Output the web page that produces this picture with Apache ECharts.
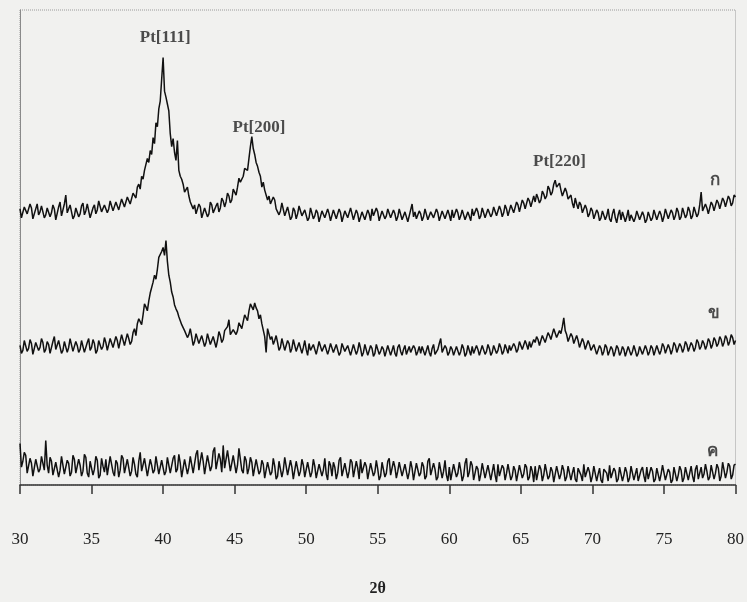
<!DOCTYPE html>
<html>
<head>
<meta charset="utf-8">
<script src="https://cdn.jsdelivr.net/npm/echarts@6/dist/echarts.min.js"></script>
<style>
html,body{margin:0;padding:0;background:#f1f1ef;}
#chart{width:747px;height:602px;}
</style>
</head>
<body>
<div id="chart"></div>
<script>
// 2θ sampling grid of the scanned patterns
const twoThetaStart = 30;
const twoThetaStep = 0.1;
const xTicks = [30, 35, 40, 45, 50, 55, 60, 65, 70, 75, 80];

// Trace ก (top) – intensity (a.u.), 30.0 … 80.0 in 0.1° steps
const traceKo = [
279,270,272,281,283,274,275,284,280,269,271,279,284,273,276,282,281,270,273,280,
282,271,275,283,279,268,270,281,286,272,274,284,293,275,276,283,281,269,272,280,
280,271,274,282,285,273,277,284,282,270,271,280,283,274,278,287,286,276,275,283,
284,275,279,287,288,277,276,286,285,278,280,289,290,281,283,291,292,284,286,295,
296,290,301,304,299,312,309,318,316,330,326,338,334,351,345,366,362,380,388,410,
432,398,392,385,378,355,342,350,336,328,348,318,312,309,304,296,298,301,292,286,
288,279,283,274,276,284,281,270,272,280,279,271,274,286,283,275,277,282,285,276,
280,290,287,281,286,295,292,285,288,299,297,293,301,310,306,304,312,320,322,318,
330,342,352,340,334,326,322,316,312,301,306,298,296,288,292,284,282,291,288,279,
280,273,277,285,284,272,273,281,279,268,271,280,277,269,274,282,281,272,270,278,
276,267,270,280,279,269,272,278,275,266,268,277,277,270,271,279,274,267,269,278,
278,269,271,279,275,266,267,277,276,270,272,280,279,268,270,278,274,266,268,276,
277,268,270,278,274,267,279,272,271,280,276,267,268,277,275,269,272,279,278,270,
269,278,274,267,271,279,277,268,268,276,275,266,272,278,284,271,276,269,268,277,
274,267,271,279,277,268,269,276,275,270,272,279,275,267,268,277,276,269,271,278,
273,267,278,270,270,279,275,268,272,278,277,268,269,276,274,267,279,272,271,280,
276,269,272,280,278,270,270,279,277,271,274,281,280,272,273,282,278,271,275,283,
279,272,274,283,281,275,277,286,283,276,278,288,285,279,280,290,287,281,283,292,
286,294,290,285,288,297,294,289,292,302,299,293,296,304,308,301,300,305,298,292,
294,300,296,289,288,293,285,280,290,284,279,286,283,275,276,283,279,271,274,280,
277,269,271,278,275,267,270,277,276,268,272,279,269,266,274,279,270,265,273,278,
268,276,274,266,271,278,267,273,273,266,270,277,275,268,269,276,272,265,268,276,
274,267,270,278,276,268,269,277,273,266,271,279,277,269,270,278,275,268,272,280,
276,268,271,280,278,270,273,281,277,269,272,281,279,271,274,283,296,277,276,284,
280,274,276,286,283,277,278,288,285,279,280,290,287,281,283,292,289,282,285,293,291
];

// Trace ข (middle)
const traceKho = [
141,133,136,146,145,135,138,147,143,132,134,144,146,136,139,148,144,134,137,145,
142,133,135,145,150,137,138,146,144,133,136,145,143,134,139,148,147,135,136,145,
141,134,137,146,145,134,135,144,148,136,139,147,143,133,136,146,146,137,140,149,
144,136,138,148,149,139,141,150,146,138,140,152,151,141,143,153,148,142,145,154,
158,151,163,168,170,162,172,183,180,176,186,194,196,205,212,208,218,230,228,236,
240,232,247,226,212,205,195,190,182,178,175,170,166,162,160,156,156,149,152,158,
150,141,145,153,154,143,142,151,149,140,144,153,152,142,141,150,148,139,146,155,
151,144,147,156,155,160,167,152,150,157,158,152,156,164,162,158,165,172,171,166,
176,183,180,177,184,179,176,168,172,163,165,150,134,158,156,147,150,142,146,151,
144,136,139,148,147,136,137,146,143,134,138,147,145,135,136,144,142,133,139,146,
137,131,143,136,135,142,140,132,138,145,144,135,134,142,141,132,137,143,142,134,
136,142,140,131,134,143,143,135,137,141,139,131,133,142,141,132,136,144,138,130,
134,142,140,131,136,141,138,130,133,142,141,132,135,140,137,130,132,141,139,131,
136,141,133,130,139,142,135,131,137,141,132,130,140,134,134,141,138,131,135,140,
133,140,139,131,136,141,134,130,138,142,132,131,137,143,148,134,135,141,138,131,
134,140,137,131,132,140,139,131,135,142,138,130,133,141,136,131,140,133,134,141,
137,131,133,141,139,132,135,142,138,131,134,141,140,133,136,143,139,132,135,142,
138,133,141,136,136,143,140,134,137,145,143,137,139,146,142,137,145,139,140,147,
144,150,147,141,143,151,149,144,146,154,151,147,148,158,157,149,150,156,153,160,
169,156,152,145,147,153,150,143,144,151,146,139,141,148,144,137,139,146,142,136,
136,142,140,132,134,141,138,131,135,142,139,131,133,140,137,130,135,141,138,131,
134,140,137,130,132,140,138,131,135,141,136,130,133,140,139,132,134,141,137,131,
135,141,138,131,133,141,139,132,136,143,140,133,134,142,138,132,137,144,141,134,
136,143,140,134,138,145,142,135,137,144,141,135,139,147,144,137,140,146,143,137,
141,148,145,138,142,149,146,140,143,150,147,140,144,151,148,141,145,152,149,142,146
];

// Trace ค (bottom)
const traceKhoKhwai = [
42,18,24,33,30,12,14,27,22,9,11,26,25,13,16,29,28,15,45,20,
12,28,24,10,9,23,21,8,15,29,27,11,10,25,22,9,13,30,26,12,
11,26,20,9,14,31,28,12,8,24,23,10,16,29,25,7,10,27,19,13,
26,10,12,29,31,13,9,25,22,8,15,30,27,12,11,26,24,9,14,28,
21,11,8,24,33,14,13,27,25,9,10,26,20,12,15,29,28,11,9,25,
23,10,14,28,26,12,11,27,30,13,16,31,22,8,9,26,25,11,18,29,
27,12,13,31,35,15,17,33,24,11,12,30,29,14,19,34,38,16,14,32,
26,13,40,17,18,35,33,14,15,30,28,12,20,37,36,15,12,29,25,11,
17,28,23,9,10,26,27,11,14,25,21,7,8,23,24,10,13,27,19,6,
9,24,22,8,15,28,26,10,11,25,18,6,7,24,23,9,14,26,20,8,
10,23,25,8,13,26,19,7,6,21,22,9,15,27,11,5,24,20,9,23,
18,6,12,25,28,9,8,22,20,7,14,26,23,8,10,24,17,6,26,12,
11,23,19,6,7,22,24,9,13,25,16,5,9,23,21,8,12,24,27,10,
10,24,18,7,14,23,25,9,8,21,20,6,13,24,17,5,6,22,22,9,
12,23,19,6,9,24,27,10,11,22,16,5,8,23,21,7,14,25,10,4,
18,5,7,21,22,8,12,23,15,4,9,22,27,8,13,24,20,5,6,19,
16,4,11,22,23,7,8,20,19,5,13,21,10,3,21,9,7,20,17,5,
12,21,20,5,9,19,15,4,6,20,22,7,11,21,18,5,8,19,14,3,
19,5,7,20,16,4,10,21,23,6,9,18,14,3,5,19,18,6,11,20,
15,4,8,19,20,5,12,18,6,3,17,19,10,4,21,8,7,18,13,3,
9,19,18,4,11,17,5,2,16,18,12,4,20,7,8,17,14,3,6,18,
17,4,10,18,13,3,7,19,19,5,11,17,4,2,15,18,9,3,18,6,
8,18,14,3,6,17,16,4,11,20,19,5,7,16,13,2,5,18,17,4,
10,19,15,3,7,18,20,5,12,19,9,3,16,20,6,4,18,7,11,21,
14,5,8,20,22,6,12,21,17,4,9,23,24,7,13,22,19,6,10,20,21
];

// Peak annotations (text, 2θ, intensity where the label sits)
const peakNames = ['Pt[111]', 'Pt[200]', 'Pt[220]'];
const peakTheta = [40.15, 46.7, 67.7];
const peakLabelY = [452, 361, 327];

// Trace names and label anchors
const traceNames = ['ก', 'ข', 'ค'];
const traceLabelTheta = [78.6, 78.5, 78.4];
const traceLabelY = [308, 173, 34];

function toPairs(arr) {
  return arr.map((v, i) => [+(twoThetaStart + i * twoThetaStep).toFixed(1), v]);
}

const serifFont = '"Liberation Serif", "DejaVu Serif", "Times New Roman", serif';
const lineColor = '#111111';

const traces = [traceKo, traceKho, traceKhoKhwai];
const series = traces.map((t, k) => ({
  name: traceNames[k],
  type: 'line',
  data: toPairs(t),
  showSymbol: false,
  symbol: 'none',
  lineStyle: { color: lineColor, width: 1.5 },
  z: 3
}));

series.push({
  type: 'scatter',
  symbolSize: 0,
  data: peakNames.map((n, i) => ({ name: n, value: [peakTheta[i], peakLabelY[i]] })),
  label: {
    show: true, position: 'inside', formatter: '{b}',
    fontFamily: serifFont, fontWeight: 'bold', fontSize: 17, color: '#222'
  },
  z: 5
});

series.push({
  type: 'scatter',
  symbolSize: 0,
  data: traceNames.map((n, i) => ({ name: n, value: [traceLabelTheta[i], traceLabelY[i]] })),
  label: {
    show: true, position: 'inside', formatter: '{b}',
    fontFamily: serifFont, fontWeight: 'bold', fontSize: 17, color: '#222'
  },
  z: 5
});

const chart = echarts.init(document.getElementById('chart'), null, { renderer: 'canvas' });
chart.setOption({
  animation: false,
  backgroundColor: '#f1f1ef',
  grid: {
    left: 20, right: 9, top: 10, bottom: 112,
    show: true, borderColor: '#9a9a9a', borderWidth: 1, borderType: 'dotted',
    backgroundColor: 'transparent'
  },
  xAxis: {
    type: 'value',
    min: xTicks[0], max: xTicks[xTicks.length - 1], interval: 5,
    axisLine: { show: true, onZero: false, lineStyle: { color: '#333', width: 1.5 } },
    axisTick: { show: true, inside: false, length: 9, lineStyle: { color: '#333', width: 1.5 } },
    axisLabel: { margin: 46, fontSize: 17, fontFamily: serifFont, color: '#222' },
    splitLine: { show: false },
    name: '2θ',
    nameLocation: 'middle',
    nameGap: 96,
    nameTextStyle: { fontFamily: serifFont, fontWeight: 'bold', fontSize: 16, color: '#222' }
  },
  yAxis: {
    type: 'value', min: 0, max: 480,
    axisLine: { show: true, lineStyle: { color: '#8a8a8a', width: 1 } },
    axisTick: { show: false },
    axisLabel: { show: false },
    splitLine: { show: false }
  },
  series: series
});
</script>
</body>
</html>
